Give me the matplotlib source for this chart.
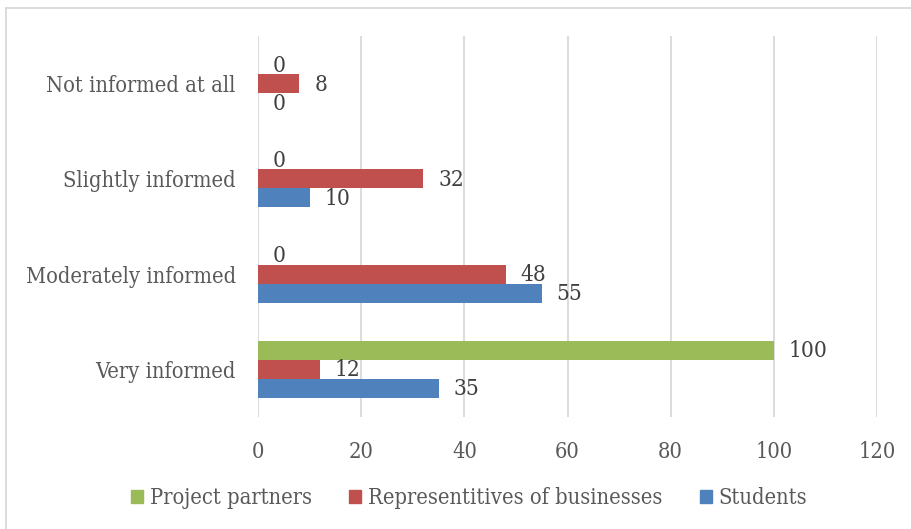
import matplotlib
matplotlib.use("Agg")
import matplotlib.pyplot as plt
from matplotlib.lines import Line2D
from matplotlib.patches import Patch
from matplotlib.font_manager import FontProperties
import numpy as np

categories = ["Very informed", "Moderately informed", "Slightly informed", "Not informed at all"]
students = [35, 55, 10, 0]
businesses = [12, 48, 32, 8]
partners = [100, 0, 0, 0]
series_names = ["Project partners", "Representitives of businesses", "Students"]
x_ticks = [0, 20, 40, 60, 80, 100, 120]

colors = {"partners": "#9bbb59", "businesses": "#c0504d", "students": "#4f81bd"}
text_color = "#595959"
grid_color = "#d9d9d9"


def fp(size=15.7):
    return FontProperties(family="DejaVu Serif", stretch="condensed", size=size)


W, H = 912, 529
fig = plt.figure(figsize=(W / 100, H / 100), dpi=100)
ax = fig.add_axes([258 / W, 1 - 417 / H, (877 - 258) / W, (417 - 36) / H])

y = np.arange(len(categories))
h = 0.2
bars_s = ax.barh(y - h, students, height=h, color=colors["students"])
bars_b = ax.barh(y, businesses, height=h, color=colors["businesses"])
bars_p = ax.barh(y + h, partners, height=h, color=colors["partners"])

for bars, vals in ((bars_s, students), (bars_b, businesses), (bars_p, partners)):
    for b, v in zip(bars, vals):
        ax.annotate(str(v), (v, b.get_y() + b.get_height() / 2),
                    xytext=(15, -1), textcoords="offset pixels",
                    ha="left", va="center", fontproperties=fp(16.2),
                    color="#404040")

ax.set_xlim(0, 120)
ax.set_ylim(-0.5, len(categories) - 0.5)
ax.set_xticks(x_ticks)
ax.set_xticklabels([str(t) for t in x_ticks], fontproperties=fp(), color=text_color)
ax.set_yticks(y)
ax.set_yticklabels(categories, fontproperties=fp(), color=text_color)
ax.tick_params(axis="both", length=0)
ax.tick_params(axis="x", pad=17)
ax.tick_params(axis="y", pad=16)
ax.grid(axis="x", color=grid_color, linewidth=1.3)
ax.set_axisbelow(True)
for s in ax.spines.values():
    s.set_visible(False)

handles = [Patch(color=colors["partners"]), Patch(color=colors["businesses"]), Patch(color=colors["students"])]
leg = fig.legend(handles, series_names, loc="center", bbox_to_anchor=(469 / W, 1 - 498 / H),
                 ncol=3, frameon=False, handlelength=0.55, handleheight=0.55,
                 handletextpad=0.28, columnspacing=1.74, prop=fp())
for t in leg.get_texts():
    t.set_color(text_color)

# outer frame: top and left edges only
fig.add_artist(Line2D([6.5 / W, 1], [1 - 8 / H, 1 - 8 / H], color=grid_color, lw=1.3, transform=fig.transFigure))
fig.add_artist(Line2D([6.5 / W, 6.5 / W], [0, 1 - 8 / H], color=grid_color, lw=1.3, transform=fig.transFigure))

fig.savefig("out.png", dpi=100)
